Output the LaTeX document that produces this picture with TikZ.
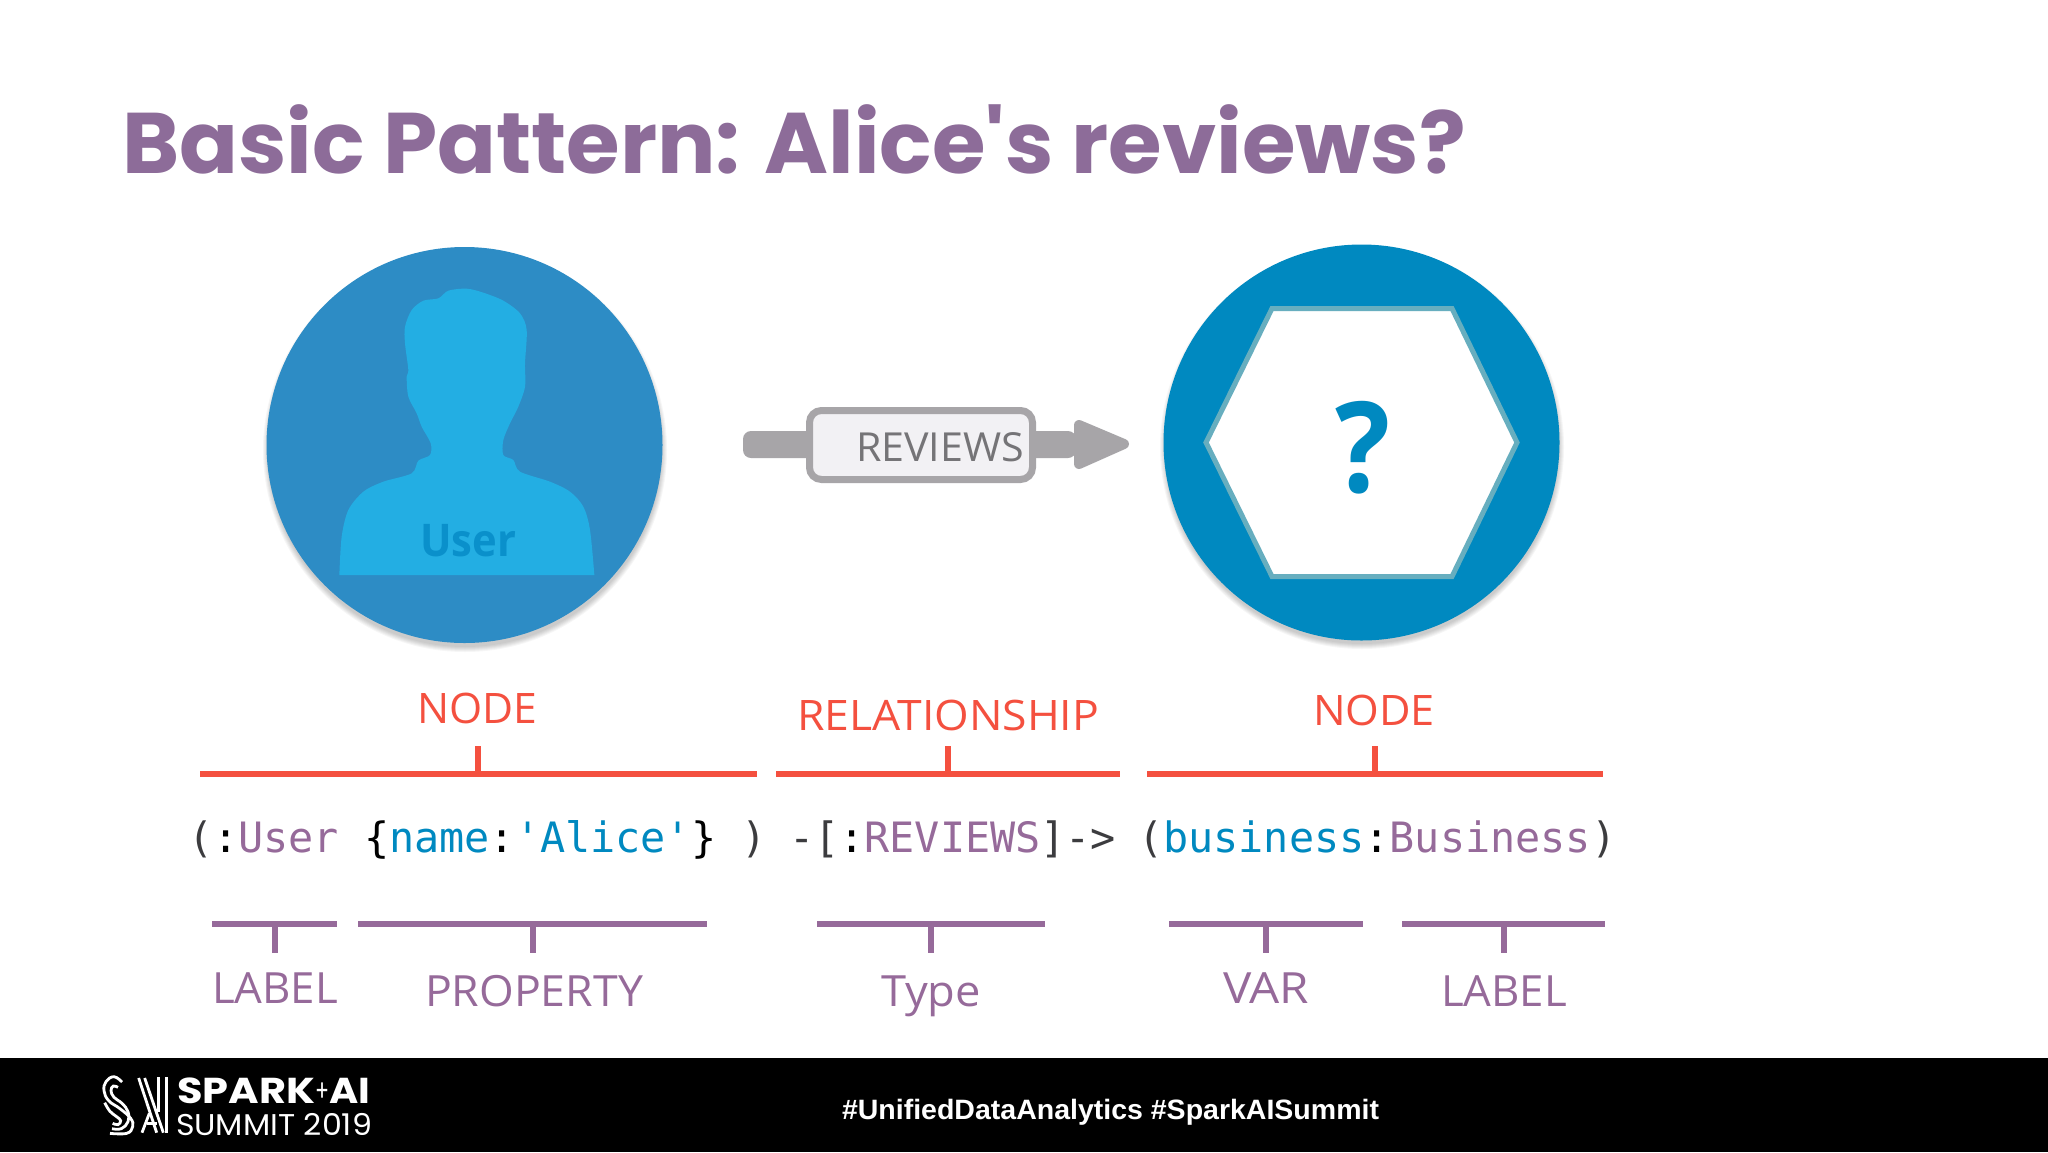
\documentclass[tikz,border=0pt]{standalone}
\usepackage{fontspec}
\usepackage{graphicx}
\setmainfont{Open Sans}
\newfontfamily\titlefont{Poppins}
\newfontfamily\codefont{DejaVu Sans Mono}
\newfontfamily\footfont{Liberation Sans}
\definecolor{redline}{HTML}{F4503F}
\definecolor{purp}{HTML}{966A9A}
\definecolor{titlepurp}{HTML}{8D6C99}
\definecolor{blueB}{HTML}{0089C0}
\definecolor{blueA}{HTML}{2D8CC5}
\definecolor{blueC}{HTML}{23AEE3}
\definecolor{blueT}{HTML}{0A90CB}
\definecolor{hexline}{HTML}{67AEBF}
\definecolor{codedark}{HTML}{3C3C3F}
\definecolor{graybar}{HTML}{A7A5A8}
\definecolor{boxfill}{HTML}{F2F1F4}
\definecolor{reltext}{HTML}{757477}
\newdimen\pxu \pxu=0.5pt
\newcommand{\fw}[2]{\resizebox{#1\pxu}{\height}{#2}}
\newcommand{\pp}[1]{\textcolor{purp}{#1}}
\newcommand{\bb}[1]{\textcolor{blueB}{#1}}
\newcommand{\kk}[1]{\textcolor{black}{#1}}
\tikzset{
  tx/.style={anchor=base west,inner sep=0pt,outer sep=0pt},
  redlab/.style={tx,text=redline,font=\fontsize{21}{25}\selectfont},
  purplab/.style={tx,text=purp,font=\fontsize{21.5}{25}\selectfont},
  code/.style={tx,text=codedark,font=\codefont\fontsize{20.9}{25}\selectfont},
  redbar/.style={draw=redline,line width=2.6pt},
  purbar/.style={draw=purp,line width=2.6pt},
  redtick/.style={draw=redline,line width=2.8pt},
  purtick/.style={draw=purp,line width=2.8pt},
  disc/.style={circle,inner sep=0pt,minimum size=198pt},
  logoline/.style={draw=white,line width=1.4pt}
}
\begin{document}
\begin{tikzpicture}[x=0.5pt,y=-0.5pt]
\useasboundingbox (0,0) rectangle (2048,1152);
\fill[white] (0,0) rectangle (2048,1152);
% title
\node[tx,text=titlepurp,font=\titlefont\bfseries\fontsize{43}{50}\selectfont] (title) at (122,173) {\fw{1344}{Basic Pattern: Alice's reviews?}};
% soft shadows
\foreach \r in {202,201,200,199,198,197}{
  \fill[black,opacity=0.035] (465,450) circle[radius=\r];
  \fill[black,opacity=0.035] (1362,447) circle[radius=\r];
}
% user disc
\node[disc,fill=blueA] (user) at (464.5,445) {};
\begin{scope}[shift={(240,230)},x=0.1666667pt,y=-0.1666667pt]
\fill[blueC] plot[smooth,tension=0.5] coordinates {(298,1035) (305,920) (325,840) (370,785) (430,755) (515,730) (535,692) (570,675) (572,640) (545,590) (530,550) (505,500) (500,440) (505,420) (495,340) (495,290) (515,240) (550,212) (595,205) (625,182) (680,176) (730,188) (790,212) (840,250) (860,300) (855,400) (855,470) (835,530) (810,580) (790,630) (790,675) (820,690) (840,725) (930,755) (990,785) (1030,830) (1050,900) (1063,1035)} -- cycle;
\end{scope}
\node[tx,text=blueT,font=\fontsize{22.5}{26}\selectfont\bfseries] (usertext) at (420,556) {\fw{96}{User}};
% business disc
\node[disc,fill=blueB] (biz) at (1361.5,442.5) {};
\coordinate (hL) at (1206,442.5);
\coordinate (hTL) at (1272,308.5);
\coordinate (hTR) at (1452,308.5);
\coordinate (hR) at (1517,442.5);
\coordinate (hBR) at (1452,576.5);
\coordinate (hBL) at (1272,576.5);
\draw[draw=hexline,fill=white,line width=2.5pt,line join=miter] (hL) -- (hTL) -- (hTR) -- (hR) -- (hBR) -- (hBL) -- cycle;
\node[tx,text=blueB,font=\fontsize{63}{70}\selectfont\bfseries] (qmark) at (1335,492) {\fw{55}{?}};
% relationship
\coordinate (barL) at (743,431);
\coordinate (barR) at (1076,458);
\fill[graybar,rounded corners=4pt] (barL) rectangle (barR);
\coordinate (hdA) at (1079,425);
\coordinate (hdB) at (1124,444);
\coordinate (hdC) at (1079,464);
\fill[graybar,draw=graybar,line width=5pt,line join=round] (hdA) -- (hdB) -- (hdC) -- cycle;
\node[rectangle,rounded corners=6pt,draw=graybar,fill=boxfill,line width=3.5pt,minimum width=111.5pt,minimum height=34.5pt,inner sep=0pt] (relbox) at (921,445) {};
\node[tx,text=reltext,font=\fontsize{20}{24}\selectfont] (reltxt) at (856,461) {\fw{168}{REVIEWS}};
% upper labels
\node[redlab] (nodeA) at (417,723) {\fw{120}{NODE}};
\node[redlab] (relB) at (797,730) {\fw{302}{RELATIONSHIP}};
\node[redlab] (nodeC) at (1313,725) {\fw{122}{NODE}};
% red brackets
\coordinate (r1l) at (200,774); \coordinate (r1r) at (757,774);
\coordinate (r1t) at (478,746); \coordinate (r1b) at (478,774);
\draw[redbar] (r1l) -- (r1r); \draw[redtick] (r1t) -- (r1b);
\coordinate (r2l) at (776,774); \coordinate (r2r) at (1120,774);
\coordinate (r2t) at (948,746); \coordinate (r2b) at (948,774);
\draw[redbar] (r2l) -- (r2r); \draw[redtick] (r2t) -- (r2b);
\coordinate (r3l) at (1147,774); \coordinate (r3r) at (1603,774);
\coordinate (r3t) at (1375,746); \coordinate (r3b) at (1375,774);
\draw[redbar] (r3l) -- (r3r); \draw[redtick] (r3t) -- (r3b);
% code
\node[code] (c1) at (188,852) {(\kk{:}\pp{User}};
\node[code] (c2) at (364,852) {\kk{\{}\bb{name}\kk{:}\bb{'Alice'}\kk{\}}};
\node[code] (c3) at (741,852) {)};
\node[code] (c4) at (789,852) {-[\kk{:}\pp{REVIEWS}]->};
\node[code] (c5) at (1138,852) {(\bb{business}\kk{:}\pp{Business})};
% purple brackets
\coordinate (p1l) at (212,924); \coordinate (p1r) at (337,924);
\coordinate (p1t) at (275,924); \coordinate (p1b) at (275,953);
\draw[purbar] (p1l) -- (p1r); \draw[purtick] (p1t) -- (p1b);
\coordinate (p2l) at (358,924); \coordinate (p2r) at (707,924);
\coordinate (p2t) at (533,924); \coordinate (p2b) at (533,953);
\draw[purbar] (p2l) -- (p2r); \draw[purtick] (p2t) -- (p2b);
\coordinate (p3l) at (817,924); \coordinate (p3r) at (1045,924);
\coordinate (p3t) at (931,924); \coordinate (p3b) at (931,953);
\draw[purbar] (p3l) -- (p3r); \draw[purtick] (p3t) -- (p3b);
\coordinate (p4l) at (1169,924); \coordinate (p4r) at (1363,924);
\coordinate (p4t) at (1266,924); \coordinate (p4b) at (1266,953);
\draw[purbar] (p4l) -- (p4r); \draw[purtick] (p4t) -- (p4b);
\coordinate (p5l) at (1402,924); \coordinate (p5r) at (1605,924);
\coordinate (p5t) at (1504,924); \coordinate (p5b) at (1504,953);
\draw[purbar] (p5l) -- (p5r); \draw[purtick] (p5t) -- (p5b);
% lower labels
\node[purplab] (lab1) at (212,1003) {\fw{126}{LABEL}};
\node[purplab] (prop) at (425,1006) {\fw{218}{PROPERTY}};
\node[purplab] (typ) at (881,1006) {\fw{100}{Type}};
\node[purplab] (var) at (1223,1003) {\fw{86}{VAR}};
\node[purplab] (lab2) at (1441,1006) {\fw{126}{LABEL}};
% footer
\fill[black] (0,1058) rectangle (2048,1152);
\node[tx,text=white,font=\footfont\bfseries\fontsize{14}{17}\selectfont] (tags) at (842,1119) {\fw{537}{\#UnifiedDataAnalytics \#SparkAISummit}};
\node[tx,text=white,font=\titlefont\bfseries\fontsize{18}{20}\selectfont] (spark) at (177,1103) {\fw{138}{SPARK}};
\node[tx,text=white,font=\titlefont\fontsize{15}{18}\selectfont] (plus) at (315,1101) {\fw{14}{+}};
\node[tx,text=white,font=\titlefont\bfseries\fontsize{18}{20}\selectfont] (ai) at (329,1103) {\fw{41}{AI}};
\node[tx,text=white,font=\titlefont\fontsize{15}{18}\selectfont] (summit) at (176,1135) {\fw{196}{SUMMIT 2019}};
% logo mark
\begin{scope}[shift={(100,1070)},x=0.1666667pt,y=-0.1666667pt]
\draw[logoline] plot[smooth,tension=0.7] coordinates {(66,36) (42,20) (18,35) (12,62) (26,92) (60,116) (92,145) (98,170) (80,190) (30,190)};
\draw[logoline] plot[smooth,tension=0.7] coordinates {(54,52) (40,48) (33,62) (42,82) (66,100) (84,125) (84,155) (64,176) (36,176)};
\draw[logoline] plot[smooth,tension=0.7] coordinates {(14,98) (30,124) (50,140) (62,152) (54,164) (38,160)};
\draw[logoline] (116,24) -- (170,188);
\draw[logoline] (134,24) -- (190,188);
\draw[logoline] (176,22) -- (176,125);
\draw[logoline] (200,22) -- (200,188);
\draw[logoline] (126,188) -- (148,130);
\draw[logoline] (140,160) -- (172,160);
\end{scope}
\end{tikzpicture}
\end{document}
